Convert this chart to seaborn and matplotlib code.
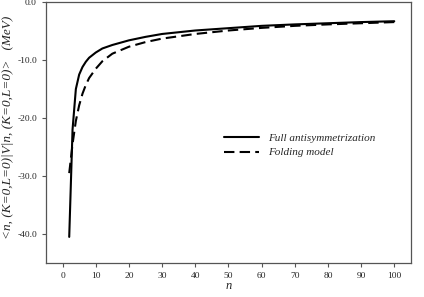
import numpy as np
import pandas as pd
import matplotlib
matplotlib.use("Agg")
import matplotlib.pyplot as plt
import seaborn as sns

# values
n_vals = [2, 3, 4, 5, 6, 7, 8, 10, 12, 15, 20, 25, 30, 40, 50, 60, 70, 80, 90, 100]
full_antisym = [-40.5, -22.0, -15.0, -12.5, -11.2, -10.3, -9.6, -8.7, -8.0, -7.4,
                -6.6, -6.0, -5.5, -4.9, -4.5, -4.1, -3.85, -3.65, -3.45, -3.3]
folding = [-29.5, -24.5, -20.5, -17.8, -15.8, -14.3, -13.1, -11.5, -10.2, -8.9,
           -7.7, -6.9, -6.3, -5.5, -4.9, -4.45, -4.1, -3.85, -3.65, -3.45]
series_names = ["Full antisymmetrization", "Folding model"]
x_ticks = list(range(0, 101, 10))
y_ticks = [0, -10, -20, -30, -40]

df = pd.DataFrame({
    "n": n_vals * 2,
    "V": full_antisym + folding,
    "model": [series_names[0]] * len(n_vals) + [series_names[1]] * len(n_vals),
})

sns.set_style("ticks")
plt.rcParams["font.family"] = ["Liberation Serif", "DejaVu Serif"]

fig = plt.figure(figsize=(4.24, 2.97), dpi=100)
ax = fig.add_axes([0.1085, 0.1145, 0.8605, 0.8785])

sns.lineplot(data=df, x="n", y="V", style="model", style_order=series_names,
             dashes={series_names[0]: "", series_names[1]: (5, 2.5)},
             color="black", linewidth=1.5, ax=ax, legend=True)

ax.set_xlim(-5, 105)
ax.set_ylim(-45, 0)
ax.set_xticks(x_ticks)
ax.set_yticks(y_ticks)
ax.set_yticklabels([f"{v:.1f}" for v in y_ticks])
ax.tick_params(labelsize=6.8, length=3, width=0.8, color="#555555", direction="out")
for sp in ax.spines.values():
    sp.set_color("#555555")
    sp.set_linewidth(0.9)

ax.set_xlabel("n", fontstyle="italic", fontsize=9, va="center")
ax.xaxis.set_label_coords(0.5, -0.09)
ax.set_ylabel("<n, (K=0,L=0)|V|n, (K=0,L=0)>   (MeV)", fontstyle="italic",
              fontsize=9.5, va="center")
ax.yaxis.set_label_coords(-0.104, 0.52)

leg = ax.legend(loc="upper left", bbox_to_anchor=(0.46, 0.535), frameon=False,
                prop={"style": "italic", "size": 8}, handlelength=3.2, labelspacing=0.4)

fig.savefig("out.png", dpi=100)
